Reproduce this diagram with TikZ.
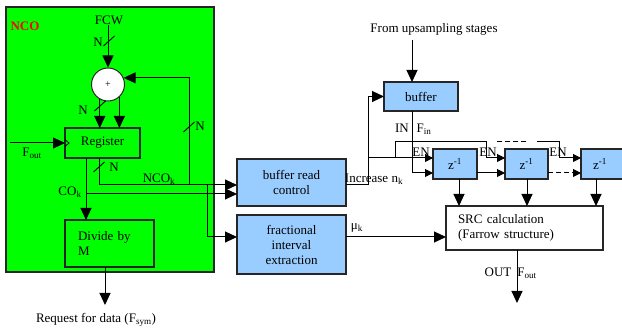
\documentclass[tikz,border=0pt]{standalone}
\usepackage{fontspec}
\setmainfont{Liberation Serif}
\usetikzlibrary{arrows.meta,calc}
\definecolor{ncogreen}{RGB}{0,255,0}
\definecolor{boxblue}{RGB}{153,204,255}
\begin{document}
\begin{tikzpicture}[x=1pt,y=-1pt,
  font=\fontsize{13}{15}\selectfont,
  line width=1pt,
  blk/.style={draw=black!85, line width=1.1pt, inner sep=0pt, outer sep=0pt},
  bluebox/.style={blk, fill=boxblue},
  big/.style={-{Triangle[length=12pt,width=11pt]}},
  sml/.style={-{Triangle[length=8pt,width=8pt]}},
  lbl/.style={inner sep=0pt},
  busmark/.style={line width=0.9pt}]
\useasboundingbox (0,0) rectangle (622,328);

% ---------- boxes ----------
\node[blk, fill=ncogreen, minimum width=208pt, minimum height=265pt] (nco) at (110,139.5) {};
\node[lbl, text=red, font=\fontsize{13}{15}\selectfont\bfseries] (ncol) at (25,26) {NCO};
\node[lbl] (fcw) at (109,20) {FCW};
\node[circle, draw=black!85, fill=white, line width=1pt, minimum size=33pt, inner sep=0pt] (add) at (108,84.5) {\fontsize{10}{10}\selectfont +};
\node[blk, minimum width=75pt, minimum height=30pt] (reg) at (102.5,143) {Register};
\node[blk, minimum width=89pt, minimum height=47pt, text width=63pt, align=left] (div) at (109.5,243.5) {Divide by\\M};

\node[bluebox, minimum width=109pt, minimum height=47pt, align=center] (brc) at (291.5,182.5) {buffer read\\control};
\node[bluebox, minimum width=109pt, minimum height=59pt, align=center] (fie) at (291.5,244.5) {fractional\\interval\\extraction};
\node[bluebox, minimum width=74pt, minimum height=29pt] (buf) at (421,96.5) {buffer};
\node[bluebox, minimum width=44pt, minimum height=30pt] (z1) at (455,164) {z\textsuperscript{-1}};
\node[bluebox, minimum width=43pt, minimum height=30pt] (z2) at (526.5,164) {z\textsuperscript{-1}};
\node[bluebox, minimum width=48pt, minimum height=30pt] (z3) at (605,164) {};
\node[lbl] (z3t) at (600,164) {z\textsuperscript{-1}};
\node[blk, fill=white, minimum width=157pt, minimum height=44pt, text width=133pt, align=left] (src) at (524.5,228) {SRC calculation\\(Farrow structure)};

% ---------- free texts ----------
\node[lbl] (up) at (434,29) {From upsampling stages};
\node[lbl] (req) at (96,320) {Request for data (F\textsubscript{sym})};
\node[lbl] (nfcw) at (98,42) {N};
\node[lbl] (nadd) at (83,110) {N};
\node[lbl] (nfb) at (200,126) {N};
\node[lbl] (nreg) at (114,167) {N};
\node[lbl] (foutl) at (32,153) {F\textsubscript{out}};
\node[lbl] (cok) at (70,192) {CO\textsubscript{k}};
\node[lbl] (ncok) at (159,179) {NCO\textsubscript{k}};
\node[lbl] (inc) at (374,179) {Increase n\textsubscript{k}};
\node[lbl] (inl) at (402,128) {IN};
\node[lbl] (finl) at (424,129) {F\textsubscript{in}};
\node[lbl] (en1l) at (421,152) {EN};
\node[lbl] (en2l) at (488,152) {EN};
\node[lbl] (en3l) at (558,152) {EN};
\node[lbl] (mul) at (357,228) {μ\textsubscript{k}};
\node[lbl] (outl) at (498,272) {OUT};
\node[lbl] (foutr) at (527,273) {F\textsubscript{out}};

% ---------- coordinates ----------
\coordinate (tapCO) at (86,194);
\coordinate (tapN) at (99,185);
\coordinate (fb) at (189,185);
\coordinate (br) at (207,185);
\coordinate (fieA) at (237,237);
\coordinate (fin) at (10,143);
\coordinate (reqtop) at (105,305);
\coordinate (upend) at (412,40);
\coordinate (dpath) at (412,173);
\coordinate (incx) at (368,185);
\coordinate (en0) at (368,158);
\coordinate (en1) at (395,158);
\coordinate (en2) at (486,142);
\coordinate (d1) at (497,142);
\coordinate (d2) at (527,142);
\coordinate (en3) at (537,142);
\coordinate (en4) at (559,142);
\coordinate (o1) at (459,206);
\coordinate (o2) at (527,206);
\coordinate (o3) at (596,206);
\coordinate (outend) at (517,303);

% ---------- NCO connectors ----------
\draw[big] (fcw.south -| add) -- (add.north);
\draw[big] (add.-119) -- (add.-119 |- reg.north);
\draw[big] (add.-48) -- (add.-48 |- reg.north);
\draw[big] (fb) |- (add.23);
\draw[big] (fin) -- (reg.west);
\draw[line width=0.8pt] ($(reg.west)+(0,-3.5)$) -- ($(reg.west)+(4,0)$) -- ($(reg.west)+(0,3.5)$);
\draw[big] (reg.south -| tapCO) -- (div.north -| tapCO);
\draw[big] (tapCO) -- (tapCO -| brc.west);
\draw[big] (reg.south -| tapN) -- (tapN) -- (tapN -| brc.west);
\draw[big] (br) |- (fieA);
\draw[big] (div.south -| reqtop) -- (reqtop);

% bus marks
\draw[busmark] (109,41) ++(-5.5,5) -- ++(11,-10);
\draw[busmark] (100,106) ++(-5.5,5) -- ++(11,-10);
\draw[busmark] (189,127) ++(-5.5,5) -- ++(11,-10);
\draw[busmark] (99,167) ++(-5.5,5) -- ++(11,-10);

% ---------- right side connectors ----------
\draw[big] (upend) -- (upend |- buf.north);
\draw[sml] (buf.south -| dpath) -- (dpath) -- (dpath -| z1.west);
\draw[big] (brc.east |- incx) -- (incx) |- (buf.west);
\draw[sml] (en0) -- (en0 -| z1.west);
\draw[sml] (en1) |- (en2) |- (z2.west |- en0);
\draw[dash pattern=on 5pt off 3pt] (d1) -- (d2);
\draw[sml] (en3) -- (en4) |- (z3.west |- en0);
\draw[sml] (z1.east |- dpath) -- (z2.west |- dpath);
\draw[sml, dash pattern=on 5pt off 3pt] (z2.east |- dpath) -- (z3.west |- dpath);
\draw[big] (z1.south -| o1) -- (o1);
\draw[big] (z2.south -| o2) -- (o2);
\draw[big] (z3.south -| o3) -- (o3);
\draw[big] (fie.east |- fieA) -- (src.west |- fieA);
\draw[big] (src.south -| outend) -- (outend);
\end{tikzpicture}
\end{document}
